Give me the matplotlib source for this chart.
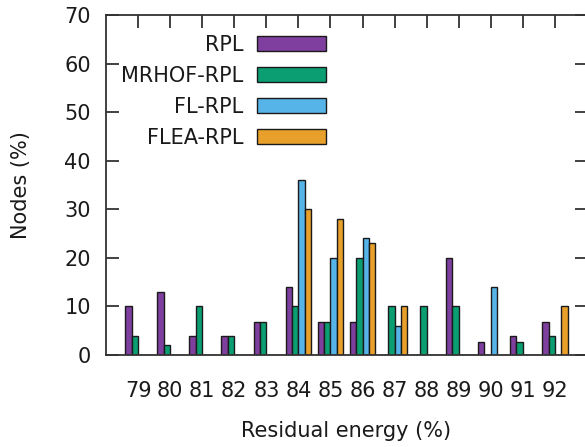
import matplotlib
matplotlib.use("Agg")
import matplotlib.pyplot as plt
import numpy as np

# residual energy bins and share of nodes (%) per protocol
energy = [79, 80, 81, 82, 83, 84, 85, 86, 87, 88, 89, 90, 91, 92]
rpl = [10, 13, 4, 4, 6.7, 14, 6.7, 6.7, 0, 0, 20, 2.7, 4, 6.7]
mrhof = [4, 2, 10, 4, 6.7, 10, 6.7, 20, 10, 10, 10, 0, 2.7, 4]
fl = [0, 0, 0, 0, 0, 36, 20, 24, 6, 0, 0, 14, 0, 0]
flea = [0, 0, 0, 0, 0, 30, 28, 23, 10, 0, 0, 0, 0, 10]

names = ["RPL", "MRHOF-RPL", "FL-RPL", "FLEA-RPL"]
colors = ["#7e3f9e", "#0b9e72", "#56b4e9", "#e8a02a"]

W, H = 585, 447
fig = plt.figure(figsize=(W / 100, H / 100), dpi=100)
ax = fig.add_axes([106 / W, 1 - 355 / H, 481 / W, 340 / H])

x = np.array(energy, dtype=float)
bw = 0.2
for i, (vals, name, c) in enumerate(zip([rpl, mrhof, fl, flea], names, colors)):
    ax.bar(x + (i - 1.5) * bw, vals, width=bw, color=c, edgecolor="#1a1a1a",
           linewidth=1.0, label=name)

ax.set_xlim(78, 93)
ax.set_ylim(0, 70)
ax.set_yticks(range(0, 71, 10))
ax.set_xticks(energy)
ax.set_xticklabels([str(e) for e in energy])

for s in ax.spines.values():
    s.set_color("#333333")
    s.set_linewidth(1.3)

ax.tick_params(axis="y", direction="in", length=9, width=1.3, color="#333333",
               right=True, labelsize=15, pad=11, labelcolor="#1a1a1a")
ax.tick_params(axis="x", direction="in", length=9, width=1.3, color="#333333",
               top=True, bottom=False, labelsize=15, pad=19, labelcolor="#1a1a1a")

ax.set_xlabel("Residual energy (%)", fontsize=15, labelpad=14, color="#1a1a1a")
ax.set_ylabel("Nodes (%)", fontsize=15, labelpad=24, color="#1a1a1a")

leg = ax.legend(loc="upper right", bbox_to_anchor=(326 / W, 1 - 35 / H),
                bbox_transform=fig.transFigure, frameon=False, markerfirst=False,
                fontsize=15, handlelength=3.3, handleheight=0.75,
                handletextpad=0.67, labelspacing=0.52, borderpad=0,
                borderaxespad=0)
for t in leg.get_texts():
    t.set_color("#1a1a1a")

fig.savefig("out.png", dpi=100)
